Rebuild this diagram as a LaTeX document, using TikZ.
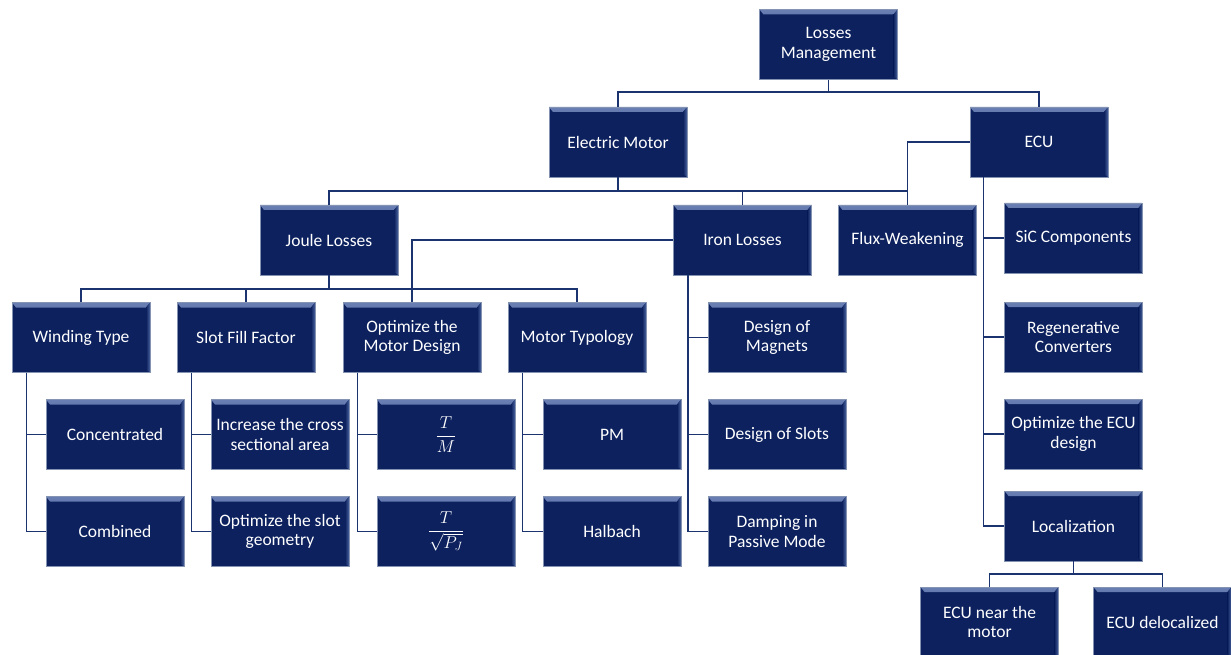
\documentclass[tikz,border=0pt]{standalone}
\usepackage{amsmath}
\usepackage{fontspec}
\setmainfont{Carlito}
\definecolor{navy}{HTML}{0C215E}
\definecolor{bevlight}{HTML}{6A80B4}
\definecolor{bevside}{HTML}{4A64A0}
\definecolor{boxedge}{HTML}{8593B2}
\definecolor{linecol}{HTML}{1B3470}
\tikzset{
  box/.style={draw=boxedge, line width=0.7pt, fill=navy, minimum width=138pt, minimum height=70pt,
    inner sep=1pt, text=white, align=center, font=\fontsize{17.5}{19.5}\selectfont,
    path picture={
      \shade[top color=bevlight, bottom color=navy]
        (path picture bounding box.north west) -- (path picture bounding box.north east)
        -- ([shift={(-4pt,-5pt)}]path picture bounding box.north east)
        -- ([shift={(4pt,-5pt)}]path picture bounding box.north west) -- cycle;
      \shade[left color=navy, right color=bevside]
        (path picture bounding box.north east) -- (path picture bounding box.south east)
        -- ([shift={(-4pt,3pt)}]path picture bounding box.south east)
        -- ([shift={(-4pt,-5pt)}]path picture bounding box.north east) -- cycle;
    }},
  conn/.style={draw=linecol, line width=1.6pt}
}
\begin{document}
\begin{tikzpicture}[x=1pt, y=-1pt]
\useasboundingbox (0,0) rectangle (1231,655);
% level 0-2
\node[box] (lm) at (828.5,44.5) {Losses\\Management};
\node[box] (em) at (618,142) {Electric Motor};
\node[box] (ecu) at (1039,142) {ECU};
\node[box] (joule) at (329,240) {Joule Losses};
\node[box] (iron) at (742.5,240) {Iron Losses};
\node[box] (flux) at (907.5,240) {Flux-Weakening};
% ECU children
\node[box] (sic) at (1073.5,238) {SiC Components};
\node[box] (regen) at (1073.5,337) {Regenerative\\Converters};
\node[box] (optecu) at (1073.5,434) {Optimize the ECU\\design};
\node[box] (loc) at (1073.5,526) {Localization};
\node[box] (near) at (989.5,622) {ECU near the\\motor};
\node[box] (deloc) at (1162.5,622) {ECU delocalized};
% level 3
\node[box] (wind) at (81,337.5) {Winding Type};
\node[box] (slot) at (246,337.5) {Slot Fill Factor};
\node[box] (opt) at (412,337.5) {Optimize the\\Motor Design};
\node[box] (typ) at (577,337.5) {Motor Typology};
\node[box] (mag) at (777,337.5) {Design of\\Magnets};
% level 4
\node[box] (conc) at (115,434.5) {Concentrated};
\node[box] (incr) at (280,434.5) {Increase the cross\\sectional area};
\node[box] (tm) at (446,434.5) {$\dfrac{T}{M}$};
\node[box] (pm) at (612,434.5) {PM};
\node[box] (slots) at (777,434.5) {Design of Slots};
% level 5
\node[box] (comb) at (115,531.5) {Combined};
\node[box] (optslot) at (280,531.5) {Optimize the slot\\geometry};
\node[box] (tp) at (446,531.5) {$\dfrac{T}{\sqrt{P_J}}$};
\node[box] (hal) at (612,531.5) {Halbach};
\node[box] (damp) at (777,531.5) {Damping in\\Passive Mode};
% connectors
\draw[conn] (lm.south) -- (lm.south |- 0,92);
\draw[conn] (em.north) -- (em.north |- 0,92) -- (ecu.north |- 0,92) -- (ecu.north);
\draw[conn] (em.south) -- (em.south |- 0,191);
\draw[conn] (joule.north) -- (joule.north |- 0,191) -- (flux.north |- 0,191) -- (flux.north);
\draw[conn] (iron.north) -- (iron.north |- 0,191);
\draw[conn] (ecu.west) -| (flux.north);
\draw[conn] (joule.south) -- (joule.south |- 0,289);
\draw[conn] (wind.north) -- (wind.north |- 0,289) -- (typ.north |- 0,289) -- (typ.north);
\draw[conn] (slot.north) -- (slot.north |- 0,289);
\draw[conn] (opt.north) -- (opt.north |- 0,289);
\draw[conn] (iron.west) -| (opt.north);
\draw[conn] ([xshift=15pt]wind.south west) |- (conc.west);
\draw[conn] ([xshift=15pt]wind.south west) |- (comb.west);
\draw[conn] ([xshift=15pt]slot.south west) |- (incr.west);
\draw[conn] ([xshift=15pt]slot.south west) |- (optslot.west);
\draw[conn] ([xshift=15pt]opt.south west) |- (tm.west);
\draw[conn] ([xshift=15pt]opt.south west) |- (tp.west);
\draw[conn] ([xshift=15pt]typ.south west) |- (pm.west);
\draw[conn] ([xshift=15pt]typ.south west) |- (hal.west);
\draw[conn] ([xshift=15pt]iron.south west) |- (mag.west);
\draw[conn] ([xshift=15pt]iron.south west) |- (slots.west);
\draw[conn] ([xshift=15pt]iron.south west) |- (damp.west);
\draw[conn] ([xshift=14pt]ecu.south west) |- (sic.west);
\draw[conn] ([xshift=14pt]ecu.south west) |- (regen.west);
\draw[conn] ([xshift=14pt]ecu.south west) |- (optecu.west);
\draw[conn] ([xshift=14pt]ecu.south west) |- (loc.west);
\draw[conn] (loc.south) -- (loc.south |- 0,574);
\draw[conn] (near.north) -- (near.north |- 0,574) -- (deloc.north |- 0,574) -- (deloc.north);
\end{tikzpicture}
\end{document}
